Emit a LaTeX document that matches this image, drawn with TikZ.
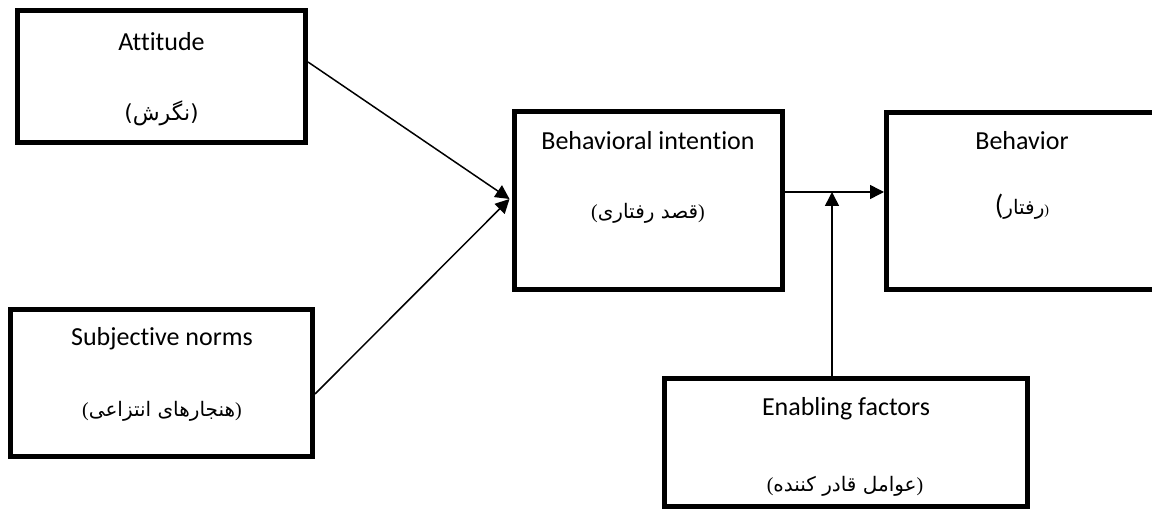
\documentclass[tikz,border=0pt]{standalone}
\usepackage{fontspec}
\setmainfont{Carlito}[Ligatures=NoCommon]
\newfontfamily\arabicfont[Script=Arabic]{DejaVu Sans}
\newfontfamily\parenfont{Liberation Serif}
\newfontfamily\parensans{DejaVu Sans}
\TeXXeTstate=1
\newcommand\faword[1]{{\arabicfont\beginR #1\endR}}
\newcommand\lp{{\parenfont(}}
\newcommand\rp{{\parenfont)}}
\usetikzlibrary{arrows.meta}
\begin{document}
\begin{tikzpicture}[x=1pt,y=-1pt,
  box/.style={draw=black, line width=5pt, inner sep=0pt, fill=white},
  en/.style={font=\fontsize{26}{30}\selectfont, inner sep=0pt, anchor=base},
  fa/.style={font=\fontsize{20}{24}\selectfont, inner sep=0pt, anchor=base},
  conn/.style={draw=black, line width=1.5pt, -{Triangle[length=14pt,width=14pt]}}]
\clip (0,0) rectangle (1152,510);
\fill[white] (0,0) rectangle (1152,510);

\node[box, minimum width=288pt, minimum height=132pt] (att) at (161.5,76.5) {};
\node[box, minimum width=302pt, minimum height=147pt] (sn) at (161.5,383) {};
\node[box, minimum width=268pt, minimum height=178pt] (bi) at (648.5,200.5) {};
\node[box, minimum width=271pt, minimum height=177pt] (beh) at (1022,201) {};
\node[box, minimum width=363pt, minimum height=128pt] (enab) at (846,442.5) {};

\node[en] (attEn) at (161.5,51) {Attitude};
\node[fa, font=\fontsize{22}{26}\selectfont] (attFa) at (161.5,121) {{\parensans(}\faword{نگرش}{\parensans)}};

\node[en] (snEn) at (162,346) {Subjective norms};
\node[fa] (snFa) at (162,417) {\lp\faword{هنجارهای انتزاعی}\rp};

\node[en] (biEn) at (648,150) {Behavioral intention};
\node[fa] (biFa) at (648,219) {\lp\faword{قصد رفتاری}\rp};

\node[en] (behEn) at (1022,150) {Behavior};
\node[fa] (behFa) at (1022,215) {{\fontsize{28}{30}\selectfont(}\faword{رفتار}{\fontsize{14}{16}\selectfont\parenfont)}};

\node[en] (enEn) at (846,416) {Enabling factors};
\node[fa] (enFa) at (845,492) {\lp\faword{عوامل قادر کننده}\rp};

\coordinate (j) at (832,192);
\draw[conn] ([yshift=14.5pt]att.east) -- ([xshift=-2.5pt,yshift=1.5pt]bi.west);
\draw[conn] ([yshift=-11pt]sn.east) -- ([xshift=-2.5pt,yshift=1.5pt]bi.west);
\draw[conn] (bi.east |- j) -- (beh.west |- j);
\draw[conn] (enab.north -| j) -- (j);
\end{tikzpicture}
\end{document}
